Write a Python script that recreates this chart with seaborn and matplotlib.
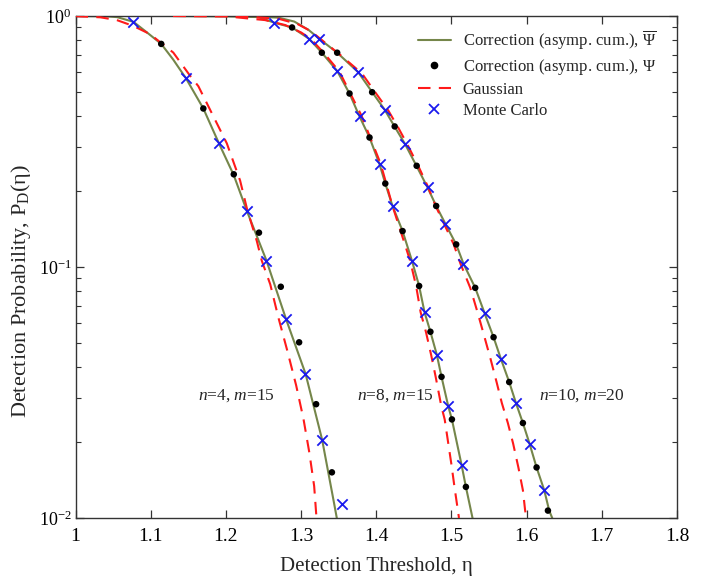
import numpy as np
import pandas as pd
import matplotlib
matplotlib.use("Agg")
import matplotlib.pyplot as plt
from matplotlib.lines import Line2D
from matplotlib.ticker import LogLocator, NullFormatter, FixedLocator
import seaborn as sns

# ---------------- data ----------------
# n=4, m=15
g4_x = [1.000, 1.040, 1.055, 1.077, 1.095, 1.114, 1.130, 1.147, 1.170, 1.1905, 1.2105,
        1.228, 1.254, 1.280, 1.306, 1.328, 1.344, 1.3475]
g4_y = [1.0, 0.997, 0.99, 0.948, 0.86, 0.774, 0.67, 0.564, 0.428, 0.312, 0.232,
        0.167, 0.106, 0.062, 0.0375, 0.0205, 0.0114, 0.010]
r4_x = [1.000, 1.033, 1.055, 1.077, 1.099, 1.130, 1.152, 1.1634, 1.2012, 1.2189, 1.2286,
        1.2411, 1.2477, 1.259, 1.270, 1.282, 1.2934, 1.3032, 1.311, 1.3174, 1.3205]
r4_y = [0.998, 0.988, 0.963, 0.912, 0.847, 0.715, 0.58, 0.525, 0.311, 0.221, 0.168,
        0.127, 0.106, 0.0853, 0.0626, 0.046, 0.0338, 0.0248, 0.0182, 0.0134, 0.010]
mc4_x = [1.077, 1.147, 1.1905, 1.228, 1.254, 1.280, 1.3058, 1.328, 1.355]
mc4_y = [0.948, 0.564, 0.312, 0.167, 0.106, 0.062, 0.0375, 0.0205, 0.0114]
ps4_x = [1.114, 1.170, 1.2105, 1.244, 1.273, 1.2974, 1.320, 1.341]
ps4_y = [0.774, 0.428, 0.234, 0.137, 0.0834, 0.0501, 0.0284, 0.0152]

# n=8, m=15
g8_x = [1.130, 1.200, 1.243, 1.2646, 1.288, 1.311, 1.3276, 1.348, 1.3644, 1.3777, 1.391,
        1.4043, 1.412, 1.4216, 1.435, 1.4474, 1.457, 1.4642, 1.472, 1.4806, 1.4868,
        1.4957, 1.5006, 1.5134, 1.5192, 1.528]
g8_y = [1.0, 0.998, 0.99, 0.94, 0.90, 0.81, 0.714, 0.604, 0.491, 0.398, 0.328,
        0.257, 0.215, 0.175, 0.139, 0.106, 0.084, 0.066, 0.0552, 0.0446, 0.0365,
        0.0279, 0.0247, 0.0163, 0.0133, 0.010]
r8_x = [1.130, 1.200, 1.252, 1.279, 1.300, 1.313, 1.330, 1.351, 1.3805, 1.406, 1.4216,
        1.432, 1.445, 1.453, 1.459, 1.466, 1.473, 1.479, 1.4865, 1.491, 1.500, 1.504, 1.510]
r8_y = [1.0, 0.997, 0.963, 0.92, 0.86, 0.81, 0.714, 0.60, 0.40, 0.257, 0.175,
        0.14, 0.106, 0.084, 0.066, 0.0552, 0.0446, 0.0365, 0.0279, 0.0247, 0.0163, 0.0133, 0.010]
mc8_x = [1.2646, 1.311, 1.348, 1.3777, 1.4043, 1.4216, 1.4474, 1.4642, 1.4806, 1.4957, 1.5134]
mc8_y = [0.94, 0.81, 0.604, 0.398, 0.257, 0.175, 0.106, 0.066, 0.0446, 0.0279, 0.0163]
ps8_x = [1.288, 1.3276, 1.3644, 1.391, 1.412, 1.435, 1.457, 1.472, 1.4868, 1.5006, 1.5192]
ps8_y = [0.90, 0.714, 0.491, 0.328, 0.215, 0.139, 0.084, 0.0552, 0.0365, 0.0247, 0.0133]

# n=10, m=20
g10_x = [1.130, 1.220, 1.270, 1.291, 1.310, 1.3245, 1.348, 1.376, 1.394, 1.411, 1.4245,
         1.4385, 1.4537, 1.468, 1.4797, 1.4917, 1.5063, 1.516, 1.5316, 1.544, 1.556,
         1.5658, 1.5768, 1.5858, 1.595, 1.6038, 1.6132, 1.6234, 1.630, 1.634]
g10_y = [1.0, 0.998, 0.985, 0.95, 0.88, 0.81, 0.714, 0.597, 0.50, 0.424, 0.362,
         0.308, 0.252, 0.208, 0.175, 0.149, 0.123, 0.103, 0.0826, 0.0655, 0.0525,
         0.0430, 0.0348, 0.0287, 0.0239, 0.0198, 0.0159, 0.0129, 0.0107, 0.010]
r10_x = [1.130, 1.220, 1.270, 1.295, 1.313, 1.328, 1.352, 1.381, 1.400, 1.416, 1.429,
         1.442, 1.456, 1.469, 1.479, 1.490, 1.503, 1.512, 1.525, 1.535, 1.544, 1.552,
         1.560, 1.567, 1.575, 1.582, 1.589, 1.595, 1.598, 1.600]
r10_y = [1.0, 0.997, 0.975, 0.93, 0.87, 0.80, 0.70, 0.59, 0.49, 0.42, 0.36,
         0.305, 0.252, 0.208, 0.175, 0.149, 0.123, 0.103, 0.0826, 0.0655, 0.0525, 0.0430,
         0.0348, 0.0287, 0.0239, 0.0198, 0.0159, 0.0129, 0.0107, 0.010]
mc10_x = [1.3245, 1.376, 1.411, 1.4385, 1.469, 1.4914, 1.5156, 1.544, 1.5658, 1.5858, 1.6038, 1.6234]
mc10_y = [0.81, 0.597, 0.422, 0.308, 0.208, 0.149, 0.103, 0.0655, 0.0430, 0.0287, 0.0198, 0.0129]
ps10_x = [1.348, 1.3945, 1.4245, 1.4537, 1.4797, 1.5063, 1.5316, 1.556, 1.5768, 1.595, 1.6132, 1.6283]
ps10_y = [0.714, 0.497, 0.363, 0.253, 0.175, 0.123, 0.0826, 0.0525, 0.0348, 0.0239, 0.0159, 0.0107]

case_labels = ["$n$=4, $m$=15", "$n$=8, $m$=15", "$n$=10, $m$=20"]
case_label_x = [1.2136, 1.425, 1.6727]
case_label_y = [0.0306, 0.0306, 0.0306]

x_ticks = [1.0, 1.1, 1.2, 1.3, 1.4, 1.5, 1.6, 1.7, 1.8]
x_ticklabels = ["1", "1.1", "1.2", "1.3", "1.4", "1.5", "1.6", "1.7", "1.8"]

legend_labels = [r"Correction (asymp. cum.), $\overline{\Psi}$",
                 r"Correction (asymp. cum.), $\Psi$",
                 "Gaussian", "Monte Carlo"]

# ---------------- style ----------------
sns.set_theme(style="ticks")
plt.rcParams["font.family"] = ["Liberation Serif", "DejaVu Serif"]
plt.rcParams["mathtext.fontset"] = "custom"
plt.rcParams["mathtext.rm"] = "Liberation Serif"
plt.rcParams["mathtext.it"] = "Liberation Serif:italic"
plt.rcParams["mathtext.bf"] = "Liberation Serif:bold"

GREEN = "#75864a"
RED = "#ff1a1a"
BLUE = "#1a1aee"

fig = plt.figure(figsize=(7.15, 5.79), dpi=100)
ax = fig.add_axes([0.1056, 0.1054, 0.8413, 0.8670])
ax.set_yscale("log")

curves = [(g4_x, g4_y, r4_x, r4_y, mc4_x, mc4_y, ps4_x, ps4_y),
          (g8_x, g8_y, r8_x, r8_y, mc8_x, mc8_y, ps8_x, ps8_y),
          (g10_x, g10_y, r10_x, r10_y, mc10_x, mc10_y, ps10_x, ps10_y)]

for gx, gy, rx, ry, mx, my, px, py in curves:
    sns.lineplot(x=gx, y=gy, ax=ax, color=GREEN, lw=1.5, sort=False, estimator=None, zorder=2)
    sns.lineplot(x=rx, y=ry, ax=ax, color=RED, lw=1.5, sort=False, estimator=None,
                 dashes=False, zorder=3).lines[-1].set_dashes([6, 4])
    sns.scatterplot(x=px, y=py, ax=ax, color="black", s=22, marker="o", edgecolor="none", zorder=4)
    sns.scatterplot(x=mx, y=my, ax=ax, color=BLUE, s=55, marker="x", linewidth=1.3, zorder=5)

for lab, lx, ly in zip(case_labels, case_label_x, case_label_y):
    ax.text(lx, ly, lab, ha="center", va="center", fontsize=12.5)

ax.set_xlim(1.0, 1.8)
ax.set_ylim(0.01, 1.0)
ax.xaxis.set_major_locator(FixedLocator(x_ticks))
ax.set_xticklabels(x_ticklabels)
ax.yaxis.set_major_locator(LogLocator(base=10))
ax.yaxis.set_minor_locator(LogLocator(base=10, subs=np.arange(2, 10)))
ax.yaxis.set_minor_formatter(NullFormatter())
ax.tick_params(axis="both", which="both", direction="in", top=True, right=True,
               labelsize=14, colors="#333333", labelcolor="black")
ax.tick_params(axis="y", which="major", labelsize=13, pad=3)
ax.tick_params(axis="both", which="major", length=6, width=0.9)
ax.tick_params(axis="y", which="minor", length=3.5, width=0.8)
ax.tick_params(axis="x", which="major", pad=7)
for s in ax.spines.values():
    s.set_color("#333333")
    s.set_linewidth(1.0)

ax.set_xlabel("Detection Threshold, η", fontsize=15, labelpad=9)
ax.set_ylabel(r"Detection Probability, P$_\mathrm{D}$(η)", fontsize=16)
ax.yaxis.set_label_coords(-0.07, 0.452)

handles = [Line2D([], [], color=GREEN, lw=1.5),
           Line2D([], [], color="black", marker="o", ls="none", markersize=4.5),
           Line2D([], [], color=RED, lw=1.5, ls=(0, (6, 4))),
           Line2D([], [], color=BLUE, marker="x", ls="none", markersize=7, markeredgewidth=1.3)]
ax.legend(handles, legend_labels, loc="upper right", frameon=False, fontsize=12,
          handlelength=2.0, handletextpad=0.7, labelspacing=0.3,
          bbox_to_anchor=(0.99, 1.005))

fig.savefig("out.png", dpi=100)
